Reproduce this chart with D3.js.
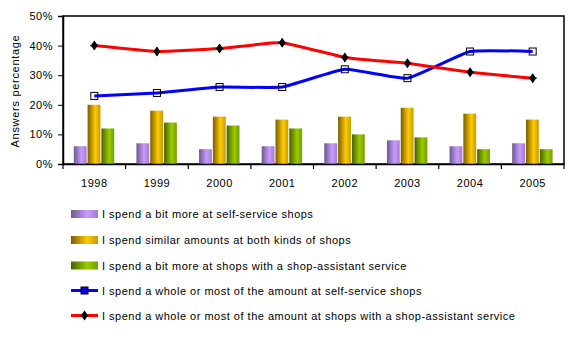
<!DOCTYPE html>
<html><head><meta charset="utf-8">
<script src="https://cdn.jsdelivr.net/npm/d3@7/dist/d3.min.js"></script>
<style>body{margin:0;background:#fff;}svg{display:block;font-family:Arial,"Liberation Sans",sans-serif;letter-spacing:0.5px;}</style>
</head><body><svg id="c" width="588" height="342"></svg>
<script>
const years = ["1998","1999","2000","2001","2002","2003","2004","2005"];
const bitMoreSelf = [6,7,5,6,7,8,6,7];
const similar = [20,18,16,15,16,19,17,15];
const bitMoreAssist = [12,14,13,12,10,9,5,5];
const mostSelf = [23,24,26,26,32,29,38,38];
const mostAssist = [40,38,39,41,36,34,31,29];
const yTicks = [0,10,20,30,40,50];
const barSeries = [
  {name:"I spend a bit more at self-service shops", values:bitMoreSelf, dark:"#6a5a8c", light:"#cc99ff"},
  {name:"I spend similar amounts at both kinds of shops", values:similar, dark:"#7a5c00", light:"#ffcc00"},
  {name:"I spend a bit more at shops with a shop-assistant service", values:bitMoreAssist, dark:"#4a6200", light:"#99cc00"}
];
const lineSeries = [
  {name:"I spend a whole or most of the amount at self-service shops", values:mostSelf, color:"#0000ff", marker:"square"},
  {name:"I spend a whole or most of the amount at shops with a shop-assistant service", values:mostAssist, color:"#ff0000", marker:"diamond"}
];

const svg = d3.select("#c");
const L=63, R=564, T=16, B=164;
const x = d3.scaleBand().domain(years).range([L,R]);
const y = d3.scaleLinear().domain([0,50]).range([B,T]);
const defs = svg.append("defs");
barSeries.forEach((s,i)=>{
  const g = defs.append("linearGradient").attr("id","g"+i).attr("x1","0").attr("x2","1").attr("y1","0").attr("y2","0");
  g.append("stop").attr("offset","0").attr("stop-color",s.dark);
  g.append("stop").attr("offset","0.6").attr("stop-color",s.light);
  g.append("stop").attr("offset","1").attr("stop-color",d3.interpolateRgb(s.light,s.dark)(0.45));
});

// plot frame
svg.append("rect").attr("x",L).attr("y",T).attr("width",R-L).attr("height",B-T).attr("fill","none").attr("stroke","#000").attr("stroke-width",1.5);

// bars
const bw = 13.3;
barSeries.forEach((s,i)=>{
  svg.append("g").selectAll("rect").data(s.values).join("rect")
    .attr("x",(d,j)=>x(years[j])+x.bandwidth()/2-20.5+i*13.8)
    .attr("y",d=>y(d)).attr("width",bw-0.5).attr("height",d=>B-y(d))
    .attr("fill","url(#g"+i+")");
});

// axes
const yAxis = d3.axisLeft(y).tickValues(yTicks).tickFormat(d=>d+"%").tickSize(5);
const ya = svg.append("g").attr("transform",`translate(${L},0)`).call(yAxis);
ya.select(".domain").attr("stroke-width",1.5);
ya.selectAll("text").attr("font-size",11).attr("fill","#000").attr("x",-10);
const xAxis = d3.axisBottom(x).tickSize(0).tickSizeOuter(0);
const xa = svg.append("g").attr("transform",`translate(0,${B})`).call(xAxis);
xa.select(".domain").attr("stroke-width",1.5);
xa.selectAll("text").attr("font-size",11).attr("fill","#000").attr("dy","0").attr("y",23);
// category boundary ticks
svg.append("g").selectAll("line").data(years.concat(["end"])).join("line")
  .attr("x1",(d,i)=>L+i*x.step()).attr("x2",(d,i)=>L+i*x.step())
  .attr("y1",B).attr("y2",B+5).attr("stroke","#000").attr("stroke-width",1.2);

svg.append("text").attr("transform",`translate(19,${(T+B)/2+1}) rotate(-90)`).attr("text-anchor","middle")
  .attr("font-size",11).style("letter-spacing","0.7px").text("Answers percentage");

// lines
const cx = (d,j)=>x(years[j])+x.bandwidth()/2;
const line = d3.line().x(cx).y(d=>y(d)).curve(d3.curveCardinal.tension(0.6));
function marker(g, type, color){
  if(type==="square"){
    g.append("rect").attr("x",-3.5).attr("y",-3.5).attr("width",7).attr("height",7).attr("fill",color).attr("stroke","#000").attr("stroke-width",1);
  } else {
    g.append("path").attr("d","M0,-5L3.5,0L0,5L-3.5,0Z").attr("fill","#000");
    g.append("path").attr("d","M-4,0H4M0,-4V4").attr("stroke","#000").attr("stroke-width",1.2);
  }
}
lineSeries.forEach(s=>{
  svg.append("path").attr("d",line(s.values)).attr("fill","none").attr("stroke",s.color).attr("stroke-width",3);
  s.values.forEach((v,j)=>{
    const g = svg.append("g").attr("transform",`translate(${cx(v,j)},${y(v)})`);
    marker(g, s.marker, s.marker==="square" ? "none" : "#000");
  });
});

// legend
const ly = [214,240,265.5,290.5,315.5];
barSeries.forEach((s,i)=>{
  svg.append("rect").attr("x",71).attr("y",ly[i]-4).attr("width",27).attr("height",8).attr("fill","url(#g"+i+")");
  svg.append("text").attr("x",102).attr("y",ly[i]+4).attr("font-size",11).text(s.name);
});
lineSeries.forEach((s,k)=>{
  const yy = ly[3+k];
  svg.append("line").attr("x1",71).attr("x2",98).attr("y1",yy).attr("y2",yy).attr("stroke",s.color).attr("stroke-width",3);
  const g = svg.append("g").attr("transform",`translate(84.5,${yy})`);
  marker(g, s.marker, s.marker==="square" ? s.color : "#000");
  svg.append("text").attr("x",102).attr("y",yy+4).attr("font-size",11).text(s.name);
});
</script></body></html>
